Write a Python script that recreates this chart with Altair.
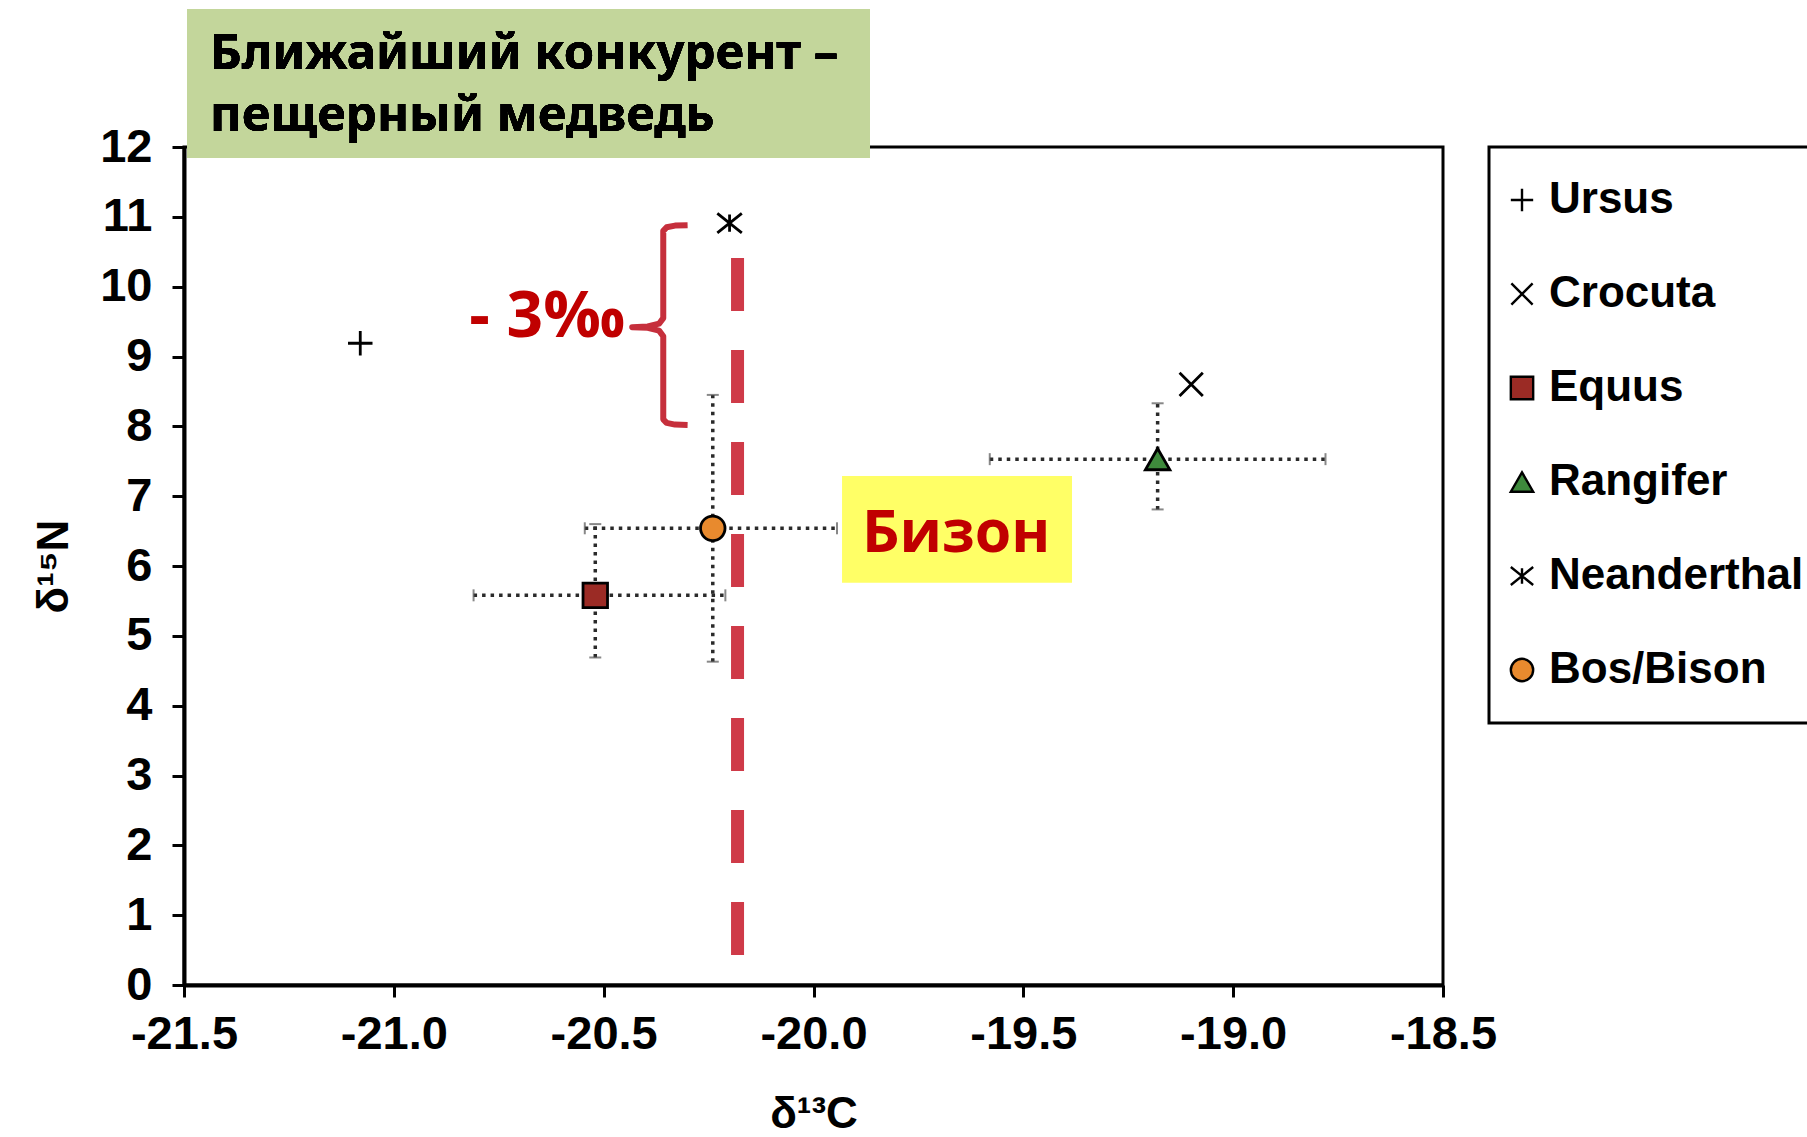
import altair as alt
import pandas as pd

# ---------------- data ----------------
species = ["Ursus", "Crocuta", "Equus", "Rangifer", "Neanderthal", "Bos/Bison"]
d13c = [-21.08, -19.10, -20.52, -19.18, -20.20, -20.24]
d15n = [9.19, 8.60, 5.58, 7.53, 10.91, 6.54]
shapes = [
    "M-1,0H1M0,-1V1",
    "M-0.95,-0.95L0.95,0.95M-0.95,0.95L0.95,-0.95",
    "square",
    "triangle-up",
    "M-1,-0.8L1,0.8M-1,0.8L1,-0.8M0,-0.7V0.7",
    "circle",
]
fills = ["transparent", "transparent", "#9b2b25", "#3e8a3c", "transparent", "#e88a2e"]
strokes = ["black"] * 6

err_species = ["Equus", "Rangifer", "Bos/Bison"]
err_c = [-20.52, -19.18, -20.24]
err_n = [5.58, 7.53, 6.54]
c_lo = [-20.81, -19.58, -20.545]
c_hi = [-20.21, -18.78, -19.944]
n_lo = [4.69, 6.81, 4.63]
n_hi = [6.60, 8.33, 8.45]

x_ticks = [-21.5, -21.0, -20.5, -20.0, -19.5, -19.0, -18.5]
y_ticks = list(range(0, 13))

# annotation values (data space)
bison_line_c = [-20.181]
bison_line_top = [10.41]
bison_line_bottom = [0.37]

brace_c = [-20.300, -20.330, -20.350, -20.358, -20.358, -20.368, -20.395, -20.432,
           -20.395, -20.368, -20.358, -20.358, -20.350, -20.330, -20.300]
brace_n = [10.88, 10.875, 10.85, 10.80, 9.55, 9.47, 9.43, 9.42,
           9.41, 9.37, 9.29, 8.10, 8.05, 8.025, 8.02]

label_3_text = ["- 3‰"]
label_3_c = [-20.82]
label_3_n = [9.28]

bison_box_c = [-19.932]
bison_box_c2 = [-19.384]
bison_box_n = [7.29]
bison_box_n2 = [5.76]
bison_text = ["Бизон"]
bison_text_c = [-19.66]
bison_text_n = [6.20]

title_lines = ["Ближайший конкурент –", "пещерный медведь"]

# ---------------- tables ----------------
pts = pd.DataFrame({"species": species, "c": d13c, "n": d15n})
err = pd.DataFrame({"species": err_species, "c": err_c, "n": err_n,
                    "c_lo": c_lo, "c_hi": c_hi, "n_lo": n_lo, "n_hi": n_hi})
line_df = pd.DataFrame({"c": bison_line_c, "top": bison_line_top, "bottom": bison_line_bottom})
brace_df = pd.DataFrame({"c": brace_c, "n": brace_n, "i": list(range(len(brace_c)))})
lab3_df = pd.DataFrame({"t": label_3_text, "c": label_3_c, "n": label_3_n})
box_df = pd.DataFrame({"c": bison_box_c, "c2": bison_box_c2, "n": bison_box_n, "n2": bison_box_n2,
                       "t": bison_text, "tc": bison_text_c, "tn": bison_text_n})

xscale = alt.Scale(domain=[-21.5, -18.5], nice=False, zero=False)
yscale = alt.Scale(domain=[0, 12], nice=False, zero=False)

x_axis = alt.Axis(
    values=x_ticks,
    labelExpr="(datum.value < 0 ? '-' : '') + format(abs(datum.value), '.1f')",
    grid=False, labelPadding=14, labelFlush=False,
    titleX=629.5, titleY=142, titleBaseline="alphabetic", titleAlign="center",
)
y_axis = alt.Axis(
    values=y_ticks, format="d", grid=False, labelPadding=20, labelFlush=False,
    titleX=-117, titleY=419, titleBaseline="alphabetic", titleAlign="center", titleAngle=270,
)


def X(f):
    return alt.X(f, type="quantitative", scale=xscale, axis=x_axis, title="δ¹³C")


def Y(f):
    return alt.Y(f, type="quantitative", scale=yscale, axis=y_axis, title="δ¹⁵N")


legend = alt.Legend(
    title=None, orient="none", legendX=1305, legendY=0,
    padding=31, rowPadding=50, labelOffset=5, symbolOffset=-20,
    labelFont="Liberation Sans", labelFontSize=44, labelFontWeight="bold", labelColor="black",
    labelLimit=1000,
    symbolSize=500, symbolStrokeWidth=2.4,
    strokeColor="black", fillColor="white",
)

base_err = alt.Chart(err)
err_h = base_err.mark_rule(color="#2a2a2a", strokeWidth=3.5, strokeDash=[3.5, 5]).encode(
    x=X("c_lo"), x2="c_hi", y=Y("n"))
err_v = base_err.mark_rule(color="#2a2a2a", strokeWidth=3.5, strokeDash=[3.5, 5]).encode(
    x=X("c"), y=Y("n_lo"), y2="n_hi")
cap_l = base_err.mark_tick(orient="vertical", color="#555", size=12, thickness=2).encode(x=X("c_lo"), y=Y("n"))
cap_r = base_err.mark_tick(orient="vertical", color="#555", size=12, thickness=2).encode(x=X("c_hi"), y=Y("n"))
cap_b = base_err.mark_tick(orient="horizontal", color="#555", size=12, thickness=2).encode(x=X("c"), y=Y("n_lo"))
cap_t = base_err.mark_tick(orient="horizontal", color="#555", size=12, thickness=2).encode(x=X("c"), y=Y("n_hi"))

red_line = alt.Chart(line_df).mark_rule(color="#cf3a48", strokeWidth=13, strokeDash=[53, 39], strokeCap="butt").encode(
    x=X("c"), y=Y("top"), y2="bottom")

brace = alt.Chart(brace_df).mark_line(color="#c62f3c", strokeWidth=6, strokeJoin="round").encode(
    x=X("c"), y=Y("n"), order="i:Q")

points = alt.Chart(pts).mark_point(size=600, strokeWidth=2.8, opacity=1).encode(
    x=X("c"), y=Y("n"),
    shape=alt.Shape("species:N", scale=alt.Scale(domain=species, range=shapes), legend=legend),
    fill=alt.Fill("species:N", scale=alt.Scale(domain=species, range=fills), legend=legend),
    stroke=alt.Stroke("species:N", scale=alt.Scale(domain=species, range=strokes), legend=legend),
)

lab3 = alt.Chart(lab3_df).mark_text(
    align="left", baseline="alphabetic", font="Open Sans", fontWeight="bold", fontSize=64, color="#c00000"
).encode(x=X("c"), y=Y("n"), text="t:N")

ybox = alt.Chart(box_df).mark_rect(color="#ffff66").encode(x=X("c"), x2="c2", y=Y("n"), y2="n2")
ytext = alt.Chart(box_df).mark_text(
    align="center", baseline="alphabetic", font="Open Sans", fontWeight="bold", fontSize=59, color="#c00000"
).encode(x=X("tc"), y=Y("tn"), text="t:N")

gbox = alt.Chart(pts).mark_rect(color="#c3d69b").encode(
    x=alt.value(3), x2=alt.value(686), y=alt.value(-138), y2=alt.value(11))
gtext = alt.Chart(pts).mark_text(
    text=title_lines, align="left", baseline="alphabetic", font="Noto Sans", fontWeight="bold",
    fontSize=49, lineHeight=62, color="black"
).encode(x=alt.value(26), y=alt.value(-78))

chart = alt.layer(
    err_h, err_v, cap_l, cap_r, cap_b, cap_t, red_line, brace, points, lab3, ybox, ytext, gbox, gtext
).properties(
    width=1259, height=838,
    autosize=alt.AutoSizeParams(type="none"),
    padding={"left": 184, "top": 147, "right": 364, "bottom": 152},
    background="white",
).configure_view(
    stroke="black", strokeWidth=3
).configure_axis(
    labelFont="Liberation Sans", labelFontSize=47, labelFontWeight="bold", labelColor="black",
    tickSize=12, tickWidth=3, tickColor="black", domainColor="black", domainWidth=4,
    titleFont="Liberation Sans", titleFontSize=44, titleFontWeight="bold", titleColor="black",
).configure_legend(
    strokeWidth=3
)

chart.save("out.html", embed_options={"renderer": "svg", "actions": False})
